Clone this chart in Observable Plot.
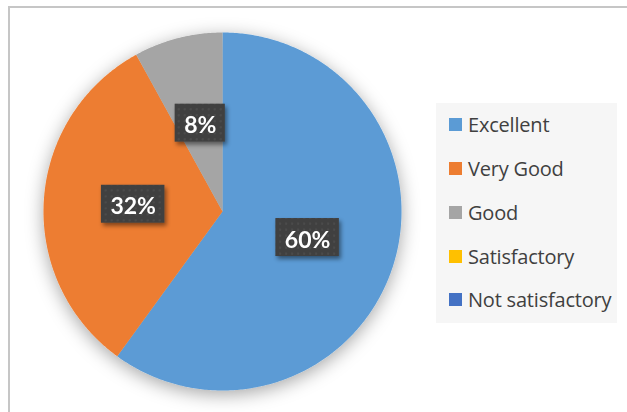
<!DOCTYPE html>
<html><head><meta charset="utf-8">
<script src="https://cdn.jsdelivr.net/npm/d3@7"></script>
<script src="https://cdn.jsdelivr.net/npm/@observablehq/plot@0.6"></script>
<style>
body{margin:0;background:#fff;}
#wrap{position:relative;width:627px;height:412px;overflow:hidden;font-family:"Open Sans",Lato,sans-serif;}
#wrap svg{position:absolute;left:0;top:0;}
#frame{position:absolute;left:8px;top:6px;width:640px;height:420px;border:2px solid #c6c6c6;box-sizing:border-box;pointer-events:none;}
#legend{position:absolute;left:436px;top:103px;width:181px;height:220px;background:#f6f6f6;}
#legend .item{display:flex;align-items:center;height:43.75px;font-size:20px;color:#404040;padding-left:13px;white-space:nowrap;letter-spacing:-0.2px;}
#legend .sw{width:13px;height:13px;margin-right:6px;flex:none;}
</style>
</head><body>
<div id="wrap"><div id="frame"></div></div>
<script>
const categories = ["Excellent", "Very Good", "Good", "Satisfactory", "Not satisfactory"];
const values = [60, 32, 8, 0, 0];
const colors = ["#5B9BD5", "#ED7D31", "#A5A5A5", "#FFC000", "#4472C4"];

const data = categories.map((c, i) => ({cat: c, value: values[i]}));
const arcs = d3.pie().sort(null).value(d => d.value)(data);

// polygon outlines of each slice (unit circle, 0 = 12 o'clock, clockwise)
const pts = [];
arcs.filter(a => a.data.value > 0).forEach(a => {
  const n = Math.max(2, Math.ceil((a.endAngle - a.startAngle) / 0.01));
  pts.push({cat: a.data.cat, x: 0, y: 0});
  for (let k = 0; k <= n; k++) {
    const t = a.startAngle + (a.endAngle - a.startAngle) * k / n;
    pts.push({cat: a.data.cat, x: Math.sin(t), y: Math.cos(t)});
  }
});
const labelPts = arcs.filter(a => a.data.value > 0).map(a => {
  const m = (a.startAngle + a.endAngle) / 2;
  return {x: 0.5 * Math.sin(m), y: 0.5 * Math.cos(m), text: a.data.value + "%"};
});

const chart = Plot.plot({
  width: 627, height: 412,
  margin: 0,
  style: {fontFamily: "Lato, 'Open Sans', sans-serif", background: "transparent"},
  x: {domain: [-1, 1], range: [43, 401], axis: null},
  y: {domain: [-1, 1], range: [390, 32], axis: null},
  color: {domain: categories, range: colors},
  marks: [
    Plot.line(pts, {x: "x", y: "y", z: "cat", fill: "cat", stroke: "none", curve: "linear"}),
    Plot.text(labelPts, {x: "x", y: "y", text: "text", fill: "white", fontWeight: "bold", fontSize: 23, dy: 1})
  ]
});
const wrap = document.getElementById("wrap");
wrap.insertBefore(chart, document.getElementById("frame"));

const svg = d3.select(chart);
const defs = svg.insert("defs", ":first-child");
defs.append("filter").attr("id", "pieShadow").attr("x", "-20%").attr("y", "-20%").attr("width", "140%").attr("height", "140%")
  .append("feDropShadow").attr("dx", 0).attr("dy", 4).attr("stdDeviation", 9).attr("flood-color", "#000").attr("flood-opacity", 0.35);
defs.append("filter").attr("id", "boxShadow").attr("x", "-30%").attr("y", "-30%").attr("width", "160%").attr("height", "160%")
  .append("feDropShadow").attr("dx", 2).attr("dy", 3).attr("stdDeviation", 2).attr("flood-color", "#000").attr("flood-opacity", 0.45);
const pat = defs.append("pattern").attr("id", "dots").attr("width", 6).attr("height", 6).attr("patternUnits", "userSpaceOnUse");
pat.append("rect").attr("width", 6).attr("height", 6).attr("fill", "#404040");
pat.append("circle").attr("cx", 3).attr("cy", 3).attr("r", 1.2).attr("fill", "#4b4b4b");

svg.select('g[aria-label="line"]').attr("filter", "url(#pieShadow)");
const textG = svg.select('g[aria-label="text"]');
const boxG = svg.insert("g", 'g[aria-label="text"]').attr("filter", "url(#boxShadow)");
textG.selectAll("text").each(function() {
  const b = this.getBBox();
  boxG.append("rect")
    .attr("transform", this.getAttribute("transform"))
    .attr("x", b.x - 9).attr("y", b.y - 5)
    .attr("width", b.width + 18).attr("height", b.height + 10)
    .attr("fill", "url(#dots)");
});

const legend = d3.select(wrap).append("div").attr("id", "legend");
categories.forEach((c, i) => {
  const it = legend.append("div").attr("class", "item");
  it.append("div").attr("class", "sw").style("background", colors[i]);
  it.append("span").text(c);
});
</script>
</body></html>
